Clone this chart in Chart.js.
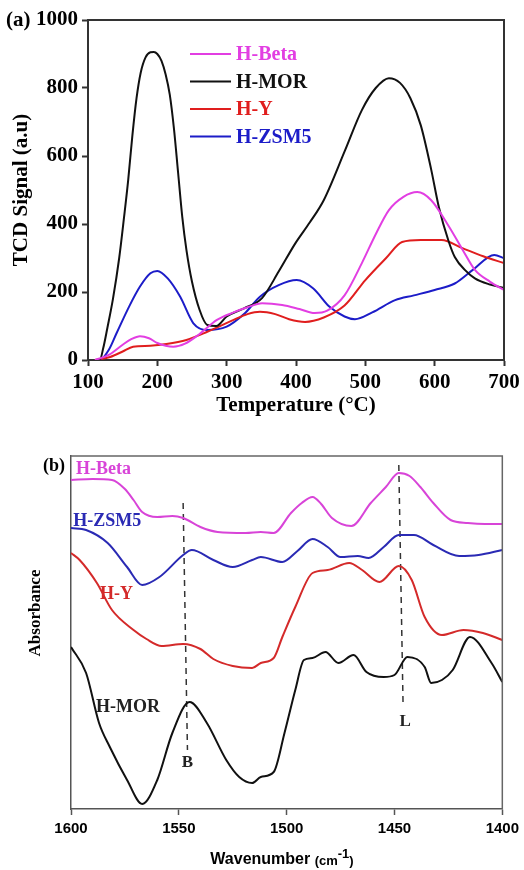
<!DOCTYPE html>
<html>
<head>
<meta charset="utf-8">
<script src="https://cdn.jsdelivr.net/npm/chart.js@4"></script>
<style>
  body { margin: 0; background: #fff; }
  canvas { display: block; }
</style>
</head>
<body>
<canvas id="tpd-chart" width="524" height="420"></canvas>
<canvas id="ir-chart" width="524" height="450"></canvas>
<script>
// ---- (a) NH3-TPD data: temperature (°C) / TCD signal (a.u) ----
const tempBeta = [110, 130, 150, 163, 175, 188, 200, 212, 223, 240, 260, 286, 310, 330, 351, 380, 405, 427, 445, 470, 495, 515, 534, 555, 575, 595, 621, 640, 658, 680, 700];
const tcdBeta  = [0, 15, 45, 62, 70, 64, 50, 42, 39, 48, 75, 118, 140, 155, 167, 162, 150, 138, 145, 190, 285, 370, 441, 480, 494, 470, 391, 325, 265, 230, 206];

const tempMOR = [110, 117, 122, 128, 136, 145, 152, 158, 164, 170, 176, 183, 190, 195, 200, 206, 212, 218, 224, 230, 236, 242, 250, 261, 272, 285, 300, 325, 351, 375, 399, 420, 440, 471, 495, 515, 534, 550, 565, 580, 595, 606, 620, 629, 645, 658, 680, 700];
const tcdMOR  = [0, 0, 35, 95, 180, 300, 420, 530, 660, 770, 845, 890, 905, 906, 900, 880, 840, 780, 680, 550, 420, 323, 230, 147, 103, 100, 128, 152, 182, 260, 343, 405, 470, 618, 735, 800, 829, 815, 770, 690, 560, 450, 350, 303, 262, 240, 222, 212];

const tempY = [110, 132, 150, 165, 190, 213, 242, 272, 310, 330, 348, 370, 390, 413, 440, 470, 500, 530, 553, 580, 610, 640, 670, 700];
const tcdY  = [0, 9, 25, 39, 42, 47, 59, 83, 118, 135, 142, 135, 120, 112, 125, 160, 235, 300, 347, 353, 353, 329, 305, 285];

const tempZSM5 = [110, 117, 130, 141, 160, 175, 190, 200, 215, 233, 252, 272, 300, 325, 348, 375, 401, 425, 448, 470, 485, 510, 543, 570, 600, 629, 655, 686, 700];
const tcdZSM5  = [0, 0, 30, 78, 160, 216, 255, 262, 240, 186, 108, 88, 98, 135, 186, 220, 235, 210, 157, 128, 120, 140, 176, 190, 206, 225, 265, 309, 299];

const tempTicks = [100, 200, 300, 400, 500, 600, 700];
const tcdTicks = [0, 200, 400, 600, 800, 1000];

// ---- (b) pyridine FTIR data: wavenumber (cm-1) / absorbance (a.u, offset) ----
const waveBeta = [1600, 1590, 1581, 1575, 1571, 1567, 1560, 1553, 1548, 1540, 1532, 1519, 1512, 1506, 1498, 1493, 1488, 1484, 1479, 1470, 1461, 1454, 1448, 1443, 1438, 1432, 1424, 1416, 1408, 1400];
const absBeta  = [329, 330, 329, 320, 309, 297, 292, 293, 291, 282, 277, 276, 277, 276, 296, 306, 312, 305, 291, 283, 306, 322, 336, 333, 322, 306, 289, 286, 285, 285];

const waveZSM5 = [1600, 1593, 1583, 1574, 1567, 1559, 1548, 1544, 1534, 1525, 1516, 1512, 1502, 1495, 1488, 1481, 1475, 1467, 1462, 1455, 1448, 1441, 1432, 1420, 1411, 1400];
const absZSM5  = [281, 279, 266, 242, 224, 232, 254, 259, 249, 242, 249, 252, 247, 258, 270, 262, 252, 253, 251, 262, 274, 274, 264, 253, 254, 259];

const waveY = [1600, 1596, 1588, 1581, 1571, 1565, 1558, 1548, 1540, 1534, 1525, 1516, 1512, 1506, 1502, 1496, 1488, 1481, 1471, 1465, 1457, 1448, 1442, 1436, 1428, 1418, 1409, 1400];
const absY  = [256, 249, 226, 199, 179, 170, 163, 165, 160, 150, 143, 141, 146, 151, 172, 202, 236, 239, 246, 239, 227, 243, 229, 192, 174, 179, 176, 169];

const waveMOR = [1600, 1593, 1587, 1582, 1574, 1567, 1560, 1553, 1545, 1537, 1528, 1522, 1516, 1512, 1506, 1501, 1496, 1492, 1488, 1482, 1476, 1469, 1463, 1455, 1450, 1444, 1436, 1433, 1428, 1423, 1415, 1405, 1400];
const absMOR  = [162, 136, 86, 62, 29, 5, 29, 76, 107, 86, 49, 32, 26, 32, 37, 76, 119, 149, 151, 157, 146, 154, 137, 132, 134, 152, 142, 126, 129, 139, 172, 146, 127];

// Brønsted (B) and Lewis (L) band markers
const waveB = [1548, 1546];
const absB  = [306, 59];
const waveL = [1448, 1446];
const absL  = [344, 102];

const waveTicks = [1600, 1550, 1500, 1450, 1400];

// curve / band labels in panel (b), anchored in data units
const irLabels   = ['H-Beta', 'H-ZSM5', 'H-Y', 'H-MOR', 'B', 'L'];
const irLabelW   = [1597.7, 1599, 1586.6, 1588.4, 1546, 1445];
const irLabelAbs = [340, 288, 215, 102, 46, 87];

const SERIF = '"Liberation Serif", "Times New Roman", serif';
const SANS = '"Liberation Sans", Arial, sans-serif';

const toPoints = (xs, ys) => xs.map((x, i) => ({ x: x, y: ys[i] }));
const plainLabel = (v) => String(v);

// box frame (top + right edges) around the plot area
const framePlugin = {
    id: 'frame',
    afterDraw: (chart, args, opts) => {
        const { ctx, chartArea: a } = chart;
        ctx.save();
        ctx.strokeStyle = opts.color;
        ctx.lineWidth = opts.width;
        ctx.beginPath();
        ctx.moveTo(a.left, a.top);
        ctx.lineTo(a.right, a.top);
        ctx.lineTo(a.right, a.bottom);
        ctx.stroke();
        ctx.restore();
    }
};

// ---------------- chart (a) ----------------
const tpdSeries = [
    { label: 'H-Beta', temps: tempBeta, values: tcdBeta, color: '#e23ee2' },
    { label: 'H-MOR', temps: tempMOR, values: tcdMOR, color: '#111111' },
    { label: 'H-Y', temps: tempY, values: tcdY, color: '#e01e1e' },
    { label: 'H-ZSM5', temps: tempZSM5, values: tcdZSM5, color: '#1c1cc8' }
];

const tpdLegend = {
    id: 'tpdLegend',
    afterDraw: (chart) => {
        const ctx = chart.ctx;
        ctx.save();
        ctx.font = 'bold 20px ' + SERIF;
        ctx.textBaseline = 'middle';
        tpdSeries.forEach((s, i) => {
            const y = 54 + i * 27.5;
            ctx.strokeStyle = s.color;
            ctx.lineWidth = 2;
            ctx.beginPath();
            ctx.moveTo(190, y);
            ctx.lineTo(231, y);
            ctx.stroke();
            ctx.fillStyle = s.color;
            ctx.fillText(s.label, 236, y + 1);
        });
        // panel tag
        ctx.fillStyle = '#000';
        ctx.font = 'bold 21px ' + SERIF;
        ctx.fillText('(a)', 6, 21);
        ctx.restore();
    }
};

new Chart(document.getElementById('tpd-chart'), {
    type: 'line',
    data: {
        datasets: tpdSeries.map(s => ({
            label: s.label,
            data: toPoints(s.temps, s.values),
            borderColor: s.color,
            borderWidth: 2,
            pointRadius: 0,
            cubicInterpolationMode: 'monotone',
            fill: false
        }))
    },
    options: {
        responsive: false,
        devicePixelRatio: 1,
        animation: false,
        layout: { padding: { top: 20, right: 20, left: 0, bottom: 0 } },
        plugins: {
            legend: { display: false },
            tooltip: { enabled: false },
            frame: { color: '#333', width: 2 }
        },
        scales: {
            x: {
                type: 'linear',
                min: tempTicks[0],
                max: tempTicks[tempTicks.length - 1],
                afterBuildTicks: (scale) => { scale.ticks = tempTicks.map(v => ({ value: v })); },
                afterFit: (scale) => { scale.height = 60; },
                ticks: { color: '#000', font: { family: SERIF, size: 21, weight: 'bold' }, padding: 4, maxRotation: 0, callback: plainLabel },
                grid: { drawOnChartArea: false, drawTicks: true, tickLength: 6, tickColor: '#333', tickWidth: 2 },
                border: { display: true, color: '#333', width: 2 },
                title: {
                    display: true,
                    text: 'Temperature (°C)',
                    color: '#000',
                    font: { family: SERIF, size: 21, weight: 'bold' },
                    padding: { top: 0, bottom: 2 }
                }
            },
            y: {
                min: tcdTicks[0],
                max: tcdTicks[tcdTicks.length - 1],
                afterBuildTicks: (scale) => { scale.ticks = tcdTicks.map(v => ({ value: v })); },
                afterFit: (scale) => { scale.width = 88; },
                ticks: { color: '#000', font: { family: SERIF, size: 21, weight: 'bold' }, padding: 4, callback: plainLabel },
                grid: { drawOnChartArea: false, drawTicks: true, tickLength: 6, tickColor: '#333', tickWidth: 2 },
                border: { display: true, color: '#333', width: 2 },
                title: {
                    display: true,
                    text: 'TCD Signal (a.u)',
                    color: '#000',
                    font: { family: SERIF, size: 21, weight: 'bold' },
                    padding: { top: 9, bottom: 0 }
                }
            }
        }
    },
    plugins: [framePlugin, tpdLegend]
});

// ---------------- chart (b) ----------------
const irSeries = [
    { label: 'H-Beta', waves: waveBeta, values: absBeta, color: '#d844d8' },
    { label: 'H-ZSM5', waves: waveZSM5, values: absZSM5, color: '#2a2ab4' },
    { label: 'H-Y', waves: waveY, values: absY, color: '#d42a2a' },
    { label: 'H-MOR', waves: waveMOR, values: absMOR, color: '#111111' }
];
const irLabelColors = ['#d844d8', '#2a2ab4', '#d42a2a', '#222', '#222', '#222'];

const irText = {
    id: 'irText',
    afterDraw: (chart) => {
        const { ctx, scales } = chart;
        ctx.save();
        ctx.textBaseline = 'middle';
        irLabels.forEach((t, i) => {
            const x = scales.x.getPixelForValue(irLabelW[i]);
            const y = scales.y.getPixelForValue(irLabelAbs[i]);
            const single = t.length === 1;
            ctx.font = 'bold ' + (single ? 17 : 18) + 'px ' + SERIF;
            ctx.textAlign = single ? 'center' : 'left';
            ctx.fillStyle = irLabelColors[i];
            ctx.fillText(t, x, y);
        });

        // panel tag
        ctx.textAlign = 'left';
        ctx.fillStyle = '#000';
        ctx.font = 'bold 18px ' + SERIF;
        ctx.fillText('(b)', 43, 46);

        // y title
        ctx.save();
        ctx.translate(36, 193);
        ctx.rotate(-Math.PI / 2);
        ctx.textAlign = 'center';
        ctx.font = 'bold 17px ' + SERIF;
        ctx.fillText('Absorbance', 0, 0);
        ctx.restore();

        // x title with superscript
        const parts = [
            { t: 'Wavenumber ', size: 16, dy: 0 },
            { t: '(cm', size: 13, dy: 1 },
            { t: '-1', size: 13, dy: -6 },
            { t: ')', size: 13, dy: 1 }
        ];
        let total = 0;
        parts.forEach(p => {
            ctx.font = 'bold ' + p.size + 'px ' + SANS;
            p.w = ctx.measureText(p.t).width;
            total += p.w;
        });
        let x = 282 - total / 2;
        parts.forEach(p => {
            ctx.font = 'bold ' + p.size + 'px ' + SANS;
            ctx.fillText(p.t, x, 440 + p.dy);
            x += p.w;
        });
        ctx.restore();
    }
};

const markerStyle = {
    borderColor: '#333',
    borderWidth: 1.5,
    borderDash: [6, 5],
    pointRadius: 0,
    tension: 0,
    fill: false
};

new Chart(document.getElementById('ir-chart'), {
    type: 'line',
    data: {
        datasets: irSeries.map(s => ({
            label: s.label,
            data: toPoints(s.waves, s.values),
            borderColor: s.color,
            borderWidth: 2,
            pointRadius: 0,
            cubicInterpolationMode: 'monotone',
            fill: false
        })).concat([
            Object.assign({ label: 'B', data: toPoints(waveB, absB) }, markerStyle),
            Object.assign({ label: 'L', data: toPoints(waveL, absL) }, markerStyle)
        ])
    },
    options: {
        responsive: false,
        devicePixelRatio: 1,
        animation: false,
        layout: { padding: { top: 36, right: 21, left: 0, bottom: 0 } },
        plugins: {
            legend: { display: false },
            tooltip: { enabled: false },
            frame: { color: '#666', width: 1.5 }
        },
        scales: {
            x: {
                type: 'linear',
                reverse: true,
                min: 1400,
                max: 1600,
                afterBuildTicks: (scale) => { scale.ticks = waveTicks.map(v => ({ value: v })); },
                afterFit: (scale) => { scale.height = 61; },
                ticks: { color: '#000', font: { family: SANS, size: 15, weight: 'bold' }, padding: 5, maxRotation: 0, callback: plainLabel },
                grid: { drawOnChartArea: false, drawTicks: true, tickLength: 6, tickColor: '#555', tickWidth: 1.5 },
                border: { display: true, color: '#555', width: 1.5 }
            },
            y: {
                min: 0,
                max: 353,
                afterFit: (scale) => { scale.width = 71; },
                ticks: { display: false },
                grid: { display: false },
                border: { display: true, color: '#555', width: 1.5 }
            }
        }
    },
    plugins: [framePlugin, irText]
});
</script>
</body>
</html>
